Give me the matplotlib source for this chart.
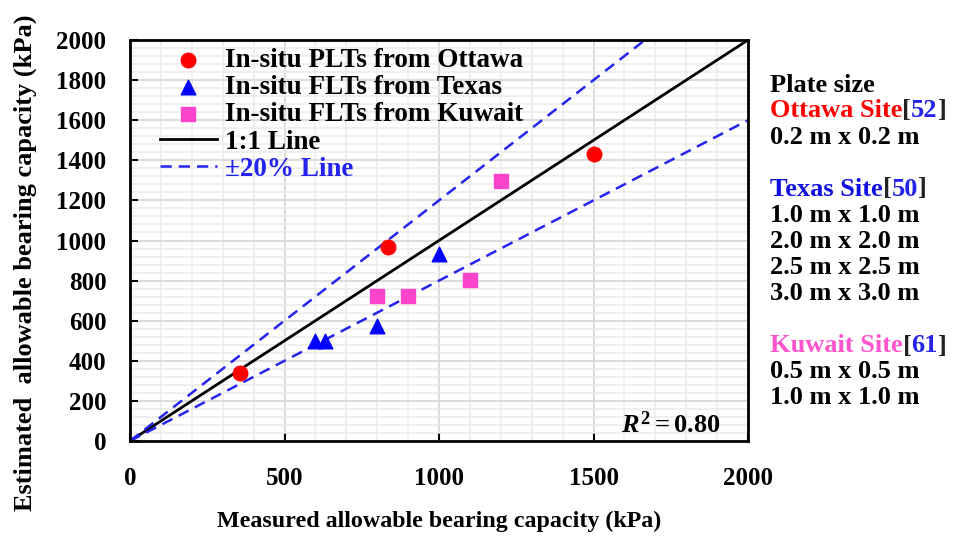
import matplotlib
matplotlib.use("Agg")
import matplotlib.pyplot as plt
import numpy as np
from matplotlib.ticker import MultipleLocator

plt.rcParams['font.family'] = ['Liberation Serif', 'DejaVu Serif']
plt.rcParams['font.weight'] = 'bold'
plt.rcParams['mathtext.fontset'] = 'custom'
plt.rcParams['mathtext.rm'] = 'Liberation Serif:bold'
plt.rcParams['mathtext.it'] = 'Liberation Serif:bold:italic'

ottawa_x = [355, 835, 1500]
ottawa_y = [340, 970, 1430]
texas_x = [600, 630, 800, 1000]
texas_y = [500, 500, 575, 935]
kuwait_x = [800, 900, 1100, 1200]
kuwait_y = [725, 725, 805, 1295]
line_x = [0, 2000]

BLUE = '#2424ee'

fig = plt.figure(figsize=(9.55, 5.4), dpi=100)
ax = fig.add_axes([130/955, 99/540, 618/955, 401/540])
ax.set_xlim(0, 2000)
ax.set_ylim(0, 2000)

ax.xaxis.set_major_locator(MultipleLocator(500))
ax.xaxis.set_minor_locator(MultipleLocator(100))
ax.yaxis.set_major_locator(MultipleLocator(200))
ax.yaxis.set_minor_locator(MultipleLocator(40))
ax.grid(which='major', color='#d9d9d9', lw=1.3, zorder=0)
ax.grid(which='minor', color='#ebebeb', lw=1.1, zorder=0)
ax.set_axisbelow(True)

ax.plot(line_x, line_x, color='black', lw=2.0, label='1:1 Line', zorder=2)
xs = np.array(line_x)
ax.plot(xs, 1.2 * xs, color=BLUE, lw=1.8, ls=(0, (4.5, 2.8)), label='±20% Line', zorder=2)
ax.plot(xs, 0.8 * xs, color=BLUE, lw=1.8, ls=(0, (4.5, 2.8)), zorder=2)

ax.scatter(ottawa_x, ottawa_y, marker='o', s=110, color='#ff0000', zorder=3,
           label='In-situ PLTs from Ottawa')
ax.scatter(texas_x, texas_y, marker='^', s=110, color='#0000ff', zorder=3,
           label='In-situ FLTs from Texas')
ax.scatter(kuwait_x, kuwait_y, marker='s', s=110, color='#ff44cc', zorder=3,
           label='In-situ FLTs from Kuwait')

handles, labels = ax.get_legend_handles_labels()
order = [labels.index(l) for l in ['In-situ PLTs from Ottawa', 'In-situ FLTs from Texas',
                                   'In-situ FLTs from Kuwait', '1:1 Line', '±20% Line']]
leg = ax.legend([handles[i] for i in order], [labels[i] for i in order],
                loc='upper left', bbox_to_anchor=(0.0485, 0.98), frameon=False,
                prop={'family': 'Liberation Serif', 'weight': 'bold', 'size': 19.5},
                handlelength=2.1, handletextpad=0.3, labelspacing=0.08,
                borderaxespad=0.0, borderpad=0.0, scatterpoints=1)
for t in leg.get_texts():
    if t.get_text() == '±20% Line':
        t.set_color(BLUE)

for s in ax.spines.values():
    s.set_linewidth(2)
ax.tick_params(which='major', direction='in', length=6, width=1.5, labelsize=18)
ax.tick_params(which='minor', length=0)
ax.tick_params(axis='x', pad=19)
ax.tick_params(axis='y', pad=17)
for lab in ax.get_xticklabels() + ax.get_yticklabels():
    lab.set_fontweight('bold')

ax.set_xlabel('Measured allowable bearing capacity (kPa)', fontsize=17.3, fontweight='bold')
ax.xaxis.set_label_coords(0.5, (441 - 511) / 401)
ax.set_ylabel('Estimated  allowable bearing capacity (kPa)', fontsize=19, fontweight='bold')
ax.yaxis.set_label_coords((37 - 130) / 618, (441 - 263) / 401)

ax.text(0.955, 0.008, r'$\mathit{R}^2 = 0.80$', transform=ax.transAxes, ha='right', va='bottom',
        fontsize=19)

# right-side annotation
fs = 19
x0 = 770 / 955
def yf(py):
    return 1 - py / 540

fig.text(x0, yf(86), 'Plate size', fontsize=fs, fontweight='bold', va='center')

def site(py, name, col, ref):
    t = fig.text(x0, yf(py), name, fontsize=fs, fontweight='bold', color=col, va='center')
    fig.canvas.draw()
    xe = t.get_window_extent().x1 / fig.bbox.width
    t2 = fig.text(xe, yf(py), '[', fontsize=fs, fontweight='bold', color='#222222', va='center')
    fig.canvas.draw()
    xe = t2.get_window_extent().x1 / fig.bbox.width
    t3 = fig.text(xe, yf(py), ref, fontsize=fs, fontweight='bold', color=BLUE, va='center')
    fig.canvas.draw()
    xe = t3.get_window_extent().x1 / fig.bbox.width
    fig.text(xe, yf(py), ']', fontsize=fs, fontweight='bold', color='#222222', va='center')

site(111, 'Ottawa Site', '#ff0000', '52')
fig.text(x0, yf(137), '0.2 m x 0.2 m', fontsize=fs, fontweight='bold', va='center')
site(189, 'Texas Site', '#1010e0', '50')
for i, s in enumerate(['1.0 m x 1.0 m', '2.0 m x 2.0 m', '2.5 m x 2.5 m', '3.0 m x 3.0 m']):
    fig.text(x0, yf(215 + 26.3 * i), s, fontsize=fs, fontweight='bold', va='center')
site(346, 'Kuwait Site', '#ff55cc', '61')
for i, s in enumerate(['0.5 m x 0.5 m', '1.0 m x 1.0 m']):
    fig.text(x0, yf(372 + 26 * i), s, fontsize=fs, fontweight='bold', va='center')

fig.savefig('out.png', dpi=100)
